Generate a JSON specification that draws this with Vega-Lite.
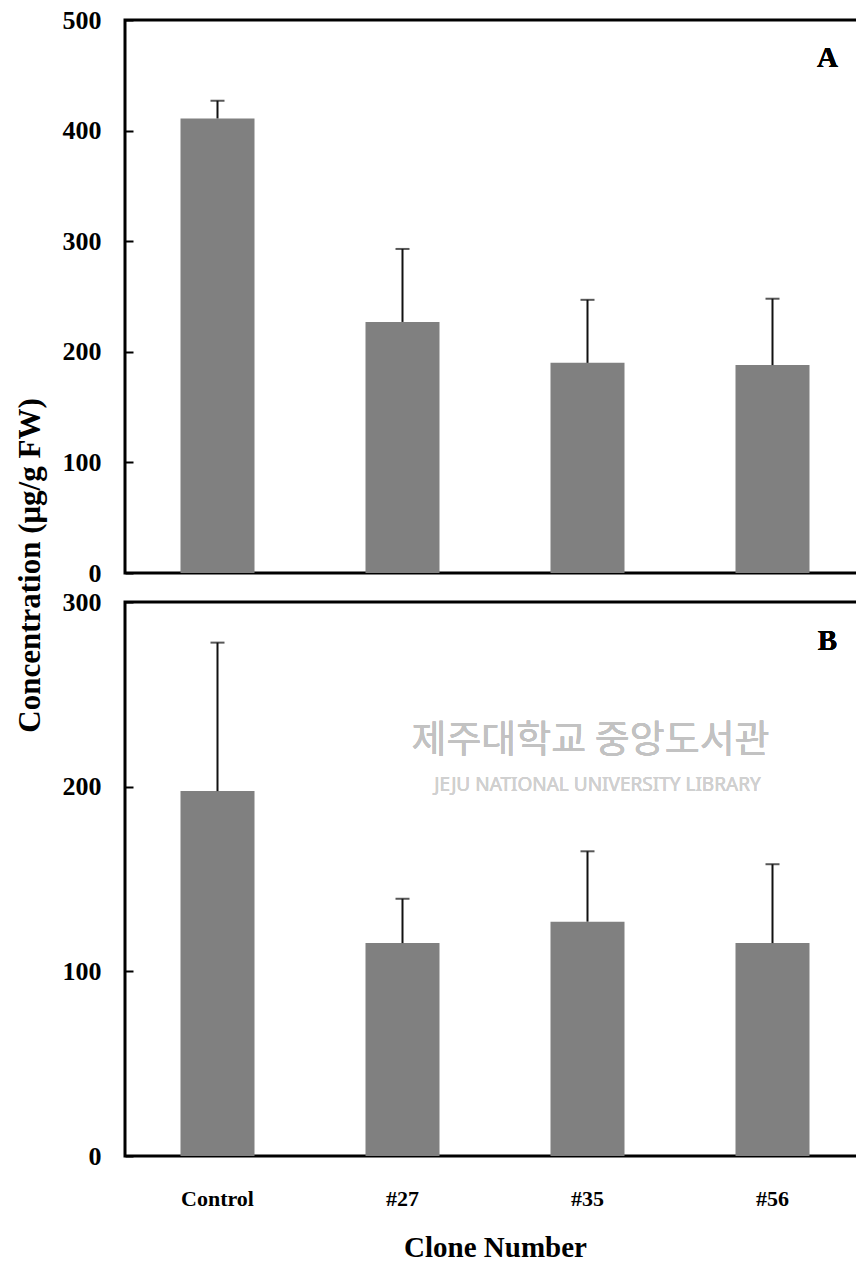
{
  "$schema": "https://vega.github.io/schema/vega-lite/v6.json",
  "background": "white",
  "padding": {"left": 12, "top": 5, "right": 0, "bottom": 5},
  "spacing": 29,
  "bounds": "flush",
  "datasets": {
    "bars": [
      {"panel": "A", "clone": "Control", "value": 411, "upper": 427},
      {"panel": "A", "clone": "#27", "value": 227, "upper": 293},
      {"panel": "A", "clone": "#35", "value": 190, "upper": 247},
      {"panel": "A", "clone": "#56", "value": 188, "upper": 248},
      {"panel": "B", "clone": "Control", "value": 197.6, "upper": 278},
      {"panel": "B", "clone": "#27", "value": 115.3, "upper": 139.3},
      {"panel": "B", "clone": "#35", "value": 126.9, "upper": 165},
      {"panel": "B", "clone": "#56", "value": 115.3, "upper": 158}
    ]
  },
  "config": {
    "font": "Liberation Serif",
    "view": {"stroke": "black", "strokeWidth": 3},
    "axis": {"domain": false, "grid": false, "labelFont": "Liberation Serif", "labelFontWeight": "bold", "labelFontSize": 26, "labelColor": "black", "titleFont": "Liberation Serif", "titleFontWeight": "bold", "titleFontSize": 31, "titleColor": "black"}
  },
  "vconcat": [
    {
      "width": 740,
      "height": 553,
      "data": {"name": "bars"},
      "transform": [{"filter": "datum.panel === 'A'"}],
      "encoding": {
        "x": {"field": "clone", "type": "nominal", "sort": ["Control", "#27", "#35", "#56"], "scale": {"paddingInner": 0.6, "paddingOuter": 0.3}, "axis": null}
      },
      "layer": [
        {
          "mark": {"type": "bar", "color": "#808080"},
          "encoding": {
            "y": {"field": "value", "type": "quantitative", "scale": {"domain": [0, 500], "nice": false}, "axis": {"values": [0, 100, 200, 300, 400, 500], "title": null, "tickSize": -8, "tickWidth": 2, "tickColor": "black", "labelPadding": 32}}
          }
        },
        {
          "mark": {"type": "rule", "color": "#111", "strokeWidth": 2},
          "encoding": {"y": {"field": "value", "type": "quantitative"}, "y2": {"field": "upper"}}
        },
        {
          "mark": {"type": "tick", "color": "#111", "size": 14, "thickness": 2},
          "encoding": {"y": {"field": "upper", "type": "quantitative"}}
        },
        {
          "mark": {"type": "text", "text": "A", "fontSize": 29, "fontWeight": "bold", "font": "Liberation Serif", "color": "black", "dx": 55},
          "encoding": {"x": {"datum": "#56"}, "y": {"datum": 466}}
        }
      ]
    },
    {
      "width": 740,
      "height": 554,
      "data": {"name": "bars"},
      "transform": [{"filter": "datum.panel === 'B'"}],
      "encoding": {
        "x": {"field": "clone", "type": "nominal", "sort": ["Control", "#27", "#35", "#56"], "scale": {"paddingInner": 0.6, "paddingOuter": 0.3}, "axis": {"title": "Clone Number", "labelAngle": 0, "ticks": false, "labelPadding": 32, "labelFontSize": 22, "titlePadding": 24, "titleFontSize": 29}}
      },
      "layer": [
        {
          "mark": {"type": "text", "text": "제주대학교 중앙도서관", "font": "Noto Sans CJK KR", "fontSize": 38, "color": "#c2c2c2", "dx": 3},
          "encoding": {"x": {"datum": "#35"}, "y": {"datum": 225}}
        },
        {
          "mark": {"type": "text", "text": "JEJU NATIONAL UNIVERSITY  LIBRARY", "font": "Noto Sans", "fontSize": 19, "color": "#d0d0d0", "dx": 10},
          "encoding": {"x": {"datum": "#35"}, "y": {"datum": 201}}
        },
        {
          "mark": {"type": "bar", "color": "#808080"},
          "encoding": {
            "y": {"field": "value", "type": "quantitative", "scale": {"domain": [0, 300], "nice": false}, "axis": {"values": [0, 100, 200, 300], "title": "Concentration (μg/g FW)", "titleAngle": -90, "titleAlign": "center", "titleBaseline": "middle", "titleX": -95, "titleY": -37, "tickSize": -8, "tickWidth": 2, "tickColor": "black", "labelPadding": 32}}
          }
        },
        {
          "mark": {"type": "rule", "color": "#111", "strokeWidth": 2},
          "encoding": {"y": {"field": "value", "type": "quantitative"}, "y2": {"field": "upper"}}
        },
        {
          "mark": {"type": "tick", "color": "#111", "size": 14, "thickness": 2},
          "encoding": {"y": {"field": "upper", "type": "quantitative"}}
        },
        {
          "mark": {"type": "text", "text": "B", "fontSize": 29, "fontWeight": "bold", "font": "Liberation Serif", "color": "black", "dx": 55},
          "encoding": {"x": {"datum": "#56"}, "y": {"datum": 279}}
        }
      ]
    }
  ]
}
